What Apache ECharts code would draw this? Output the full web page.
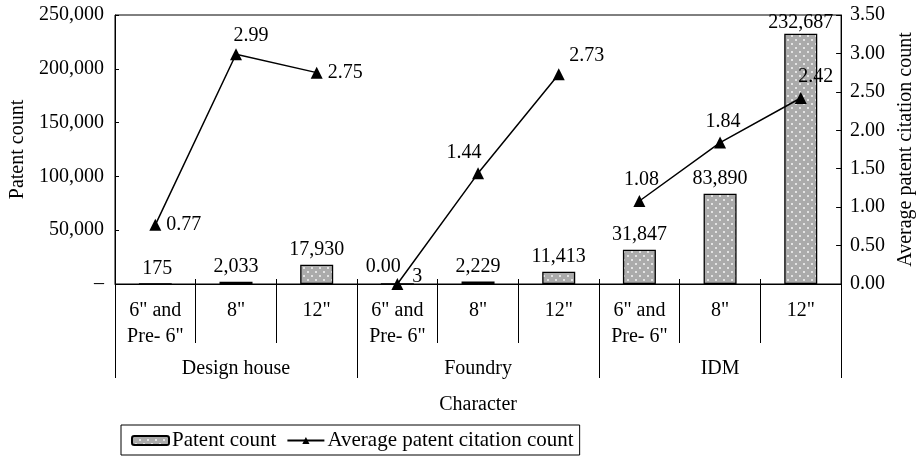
<!DOCTYPE html>
<html>
<head>
<meta charset="utf-8">
<script src="https://cdn.jsdelivr.net/npm/echarts@6/dist/echarts.min.js"></script>
<style>
  html, body { margin: 0; padding: 0; background: #fff; }
  #chart { width: 924px; height: 458px; }
</style>
</head>
<body>
<div id="chart"></div>
<script>
// Wafer size categories, grouped by company character
const sizes = ['6" and\nPre- 6"', '8"', '12"', '6" and\nPre- 6"', '8"', '12"', '6" and\nPre- 6"', '8"', '12"'];
const groups = ['Design house', 'Foundry', 'IDM'];
const groupOf = [0, 0, 0, 1, 1, 1, 2, 2, 2];

// Series values
const patentCount = [175, 2033, 17930, 3, 2229, 11413, 31847, 83890, 232687];
const avgCitation = [0.77, 2.99, 2.75, 0.00, 1.44, 2.73, 1.08, 1.84, 2.42];

// Tick settings
const leftTicks = { min: 0, max: 250000, interval: 50000 };
const rightTicks = { min: 0, max: 3.5, interval: 0.5 };

// Label placement tweaks (styling only)
const barLabelOffset = [[2, 0], [0, 0], [0, 0], [20, 8], [0, 0], [0, 0], [0, 0], [0, 0], [0, 4]];
const lineLabelPos = ['right', 'top', 'right', 'top', 'top', 'top', 'top', 'top', 'top'];
const lineLabelOffset = [[0, 0], [15, 3], [0, 0], [-14, 4], [-14, 0], [28, 3], [2, 0], [3, 0], [15, 0]];

const FONT = "'Liberation Serif', 'Times New Roman', serif";
const BLACK = '#000';

// Grey checker fill used for the bars: round grey dots on a diagonal lattice
function makeChecker() {
  const c = document.createElement('canvas');
  c.width = 8; c.height = 8;
  const g = c.getContext('2d');
  g.fillStyle = '#ffffff';
  g.fillRect(0, 0, 8, 8);
  g.fillStyle = '#ababab';
  const r = 3.25;
  [[4, 4], [0, 0], [8, 0], [0, 8], [8, 8]].forEach(([x, y]) => {
    g.beginPath();
    g.arc(x, y, r, 0, Math.PI * 2);
    g.closePath();
    g.fill();
  });
  return c;
}

const chart = echarts.init(document.getElementById('chart'), null, { renderer: 'canvas' });

const textBase = { color: BLACK, fontFamily: FONT, fontSize: 20 };

const lineSeries = groups.map((gname, gi) => ({
  name: 'Average patent citation count',
  type: 'line',
  xAxisIndex: 0,
  yAxisIndex: 1,
  z: 5,
  symbol: 'triangle',
  symbolSize: 12,
  lineStyle: { color: BLACK, width: 1.5 },
  itemStyle: { color: BLACK },
  data: avgCitation.map((v, i) => groupOf[i] === gi ? {
    value: v,
    label: { position: lineLabelPos[i], offset: lineLabelOffset[i] }
  } : '-'),
  label: {
    show: true,
    ...textBase,
    distance: 5,
    formatter: p => Number(p.value).toFixed(2)
  }
}));

chart.setOption({
  animation: false,
  backgroundColor: '#fff',
  textStyle: { fontFamily: FONT, color: BLACK },
  grid: {
    left: 115, right: 81, top: 15, bottom: 174,
    show: true, borderColor: BLACK, borderWidth: 1, backgroundColor: 'transparent'
  },
  legend: {
    left: 121, top: 425,
    data: ['Patent count', 'Average patent citation count'],
    borderColor: BLACK, borderWidth: 1,
    padding: [5, 6, 4, 10],
    itemGap: 10,
    itemWidth: 37, itemHeight: 9,
    textStyle: { ...textBase, fontSize: 21, padding: [0, 0, 0, -2] }
  },
  xAxis: [
    {
      type: 'category',
      data: sizes,
      position: 'bottom',
      axisLine: { show: true, lineStyle: { color: BLACK, width: 1 } },
      axisTick: { show: true, interval: 0, length: 59, lineStyle: { color: BLACK, width: 1 } },
      axisLabel: { interval: 0, margin: 14, ...textBase, lineHeight: 26 },
      splitLine: { show: false }
    },
    {
      type: 'category',
      data: groups,
      position: 'bottom',
      axisLine: { show: false },
      axisTick: { show: true, interval: 0, length: 94, lineStyle: { color: BLACK, width: 1 } },
      axisLabel: { interval: 0, margin: 75, ...textBase },
      name: 'Character',
      nameLocation: 'middle',
      nameGap: 111,
      nameTextStyle: { ...textBase },
      splitLine: { show: false }
    },
    {
      type: 'category',
      data: sizes,
      position: 'bottom',
      axisLine: { show: false },
      axisTick: { show: true, inside: true, interval: 0, length: 5, lineStyle: { color: BLACK, width: 1 } },
      axisLabel: { show: false },
      splitLine: { show: false }
    }
  ],
  yAxis: [
    {
      type: 'value',
      position: 'left',
      ...leftTicks,
      name: 'Patent count',
      nameLocation: 'middle',
      nameGap: 84,
      nameTextStyle: { ...textBase },
      axisLine: { show: true, lineStyle: { color: BLACK, width: 1 } },
      axisTick: { show: true, inside: true, length: 4, lineStyle: { color: BLACK } },
      axisLabel: {
        ...textBase, margin: 11,
        formatter: v => v === 0 ? '–' : v.toLocaleString('en-US')
      },
      splitLine: { show: false }
    },
    {
      type: 'value',
      position: 'right',
      ...rightTicks,
      name: 'Average patent citation count',
      nameLocation: 'middle',
      nameGap: 52,
      nameTextStyle: { ...textBase },
      axisLine: { show: true, lineStyle: { color: BLACK, width: 1 } },
      axisTick: { show: true, inside: true, length: 5, lineStyle: { color: BLACK } },
      axisLabel: {
        ...textBase, margin: 9,
        formatter: v => v.toFixed(2)
      },
      splitLine: { show: false }
    }
  ],
  series: [
    {
      name: 'Patent count',
      type: 'bar',
      xAxisIndex: 0,
      yAxisIndex: 0,
      barWidth: 33,
      z: 2,
      itemStyle: {
        color: { image: makeChecker(), repeat: 'repeat' },
        borderColor: BLACK,
        borderWidth: 1.3
      },
      label: {
        show: true,
        position: 'top',
        distance: 5,
        ...textBase,
        formatter: p => Number(p.value).toLocaleString('en-US')
      },
      data: patentCount.map((v, i) => ({ value: v, label: { offset: barLabelOffset[i] } }))
    },
    ...lineSeries
  ]
});
</script>
</body>
</html>
